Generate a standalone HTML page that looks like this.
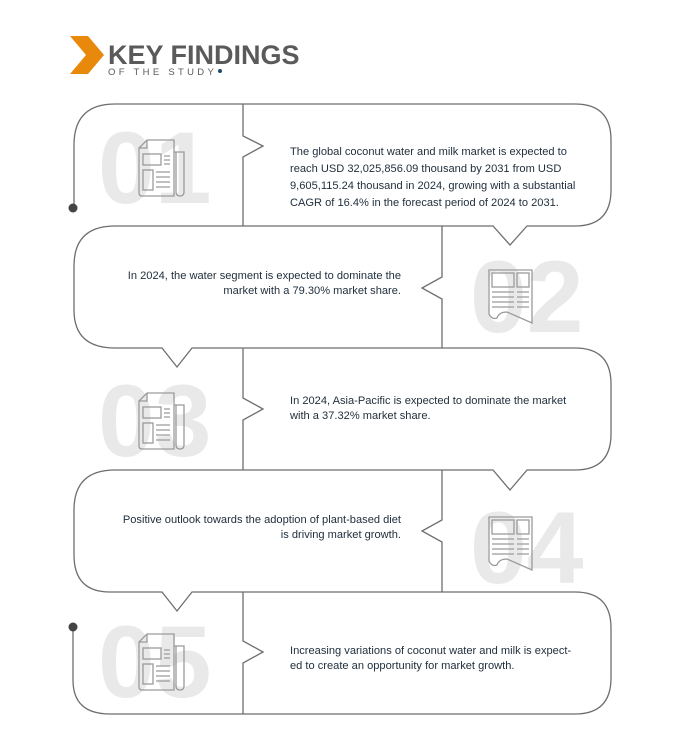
<!DOCTYPE html>
<html><head><meta charset="utf-8"><style>
html,body{margin:0;padding:0;background:#fff;}
svg{display:block;}
.t{font-family:"Liberation Sans",sans-serif;font-size:11.1px;fill:#1e2d3b;}
.n{font-family:"Liberation Sans",sans-serif;font-weight:bold;font-size:102px;fill:#e9e9e9;}
.ic{fill:none;stroke:#9a9a9a;stroke-width:1.3;}
</style></head><body>
<svg width="690" height="745" viewBox="0 0 690 745">
<defs>
<g id="ia" class="ic">
  <path d="M8,0 H35 V56 H3 Q0,56 0,53 V8 Z"/>
  <path d="M0,8 H8 V0"/>
  <path d="M35,12 H45 V52 Q45,56 41,56 Q37,56 37,52 V12"/>
  <rect x="4" y="14" width="18" height="11"/>
  <rect x="4" y="30" width="10" height="20"/>
  <path d="M25,16 H31 M25,20 H31 M25,24 H31 M17,32 H31 M17,37 H31 M17,42 H31 M17,47 H31"/>
</g>
<g id="ib" class="ic">
  <path d="M0,0 H43 V53 L18,42 Q10,42 8,48 Q3,50 0,44 Z"/>
  <rect x="3" y="3" width="22" height="14"/>
  <rect x="28" y="3" width="12" height="14"/>
  <path d="M3,22 H25 M3,27 H25 M3,32 H25 M3,37 H25 M28,22 H40 M28,27 H40 M28,32 H40 M28,37 H40"/>
</g>
</defs>
<polygon points="70,36 88,36 104,55 88,74 70,74 86,55" fill="#e8890c"/>
<text x="108" y="64" font-family="Liberation Sans,sans-serif" font-weight="bold" font-size="27" fill="#5a5a5a">KEY FINDINGS</text>
<text x="108" y="75" font-family="Liberation Sans,sans-serif" font-size="9.5" letter-spacing="3.3" fill="#5a5a5a">OF THE STUDY</text>
<circle cx="220" cy="71" r="2" fill="#1e4a6b"/>

<text class="n" x="98" y="203">01</text>
<text class="n" x="470" y="332">02</text>
<text class="n" x="98" y="456">03</text>
<text class="n" x="470" y="583">04</text>
<text class="n" x="98" y="697">05</text>

<use href="#ia" x="139" y="140"/>
<use href="#ib" x="489" y="270"/>
<use href="#ia" x="139" y="393"/>
<use href="#ib" x="489" y="517"/>
<use href="#ia" x="139" y="634"/>

<g fill="none" stroke="#6e6e6e" stroke-width="1.3">
  <path d="M74,208 V145 Q74,104 115,104 H575 Q611,104 611,140 V190 Q611,226 575,226 H527 L510,245 L493,226 H115 Q74,226 74,266 V310 Q74,348 115,348 H162 L177,367 L192,348 H575 Q611,348 611,384 V434 Q611,470 575,470 H527 L510,490 L493,470 H115 Q74,470 74,510 V555 Q74,592 110,592 H162 L177,611 L192,592 H575 Q611,592 611,628 V678 Q611,714 575,714 H110 Q73,714 73,680 V627"/>
  <path d="M243,104 V136 L263,146 L243,157 V226"/>
  <path d="M442,226 V277 L422,288 L442,299 V348"/>
  <path d="M243,348 V398 L263,409 L243,420 V470"/>
  <path d="M442,470 V520 L422,531 L442,542 V592"/>
  <path d="M243,592 V641 L263,652 L243,663 V714"/>
</g>
<circle cx="73" cy="208" r="4.5" fill="#444"/>
<circle cx="73" cy="627" r="4.5" fill="#444"/>

<text class="t" x="290" y="155">The global coconut water and milk market is expected to</text>
<text class="t" x="290" y="172">reach USD 32,025,856.09 thousand by 2031 from USD</text>
<text class="t" x="290" y="189">9,605,115.24 thousand in 2024, growing with a substantial</text>
<text class="t" x="290" y="206">CAGR of 16.4% in the forecast period of 2024 to 2031.</text>

<text class="t" x="401" y="279" text-anchor="end">In 2024, the water segment is expected to dominate the</text>
<text class="t" x="401" y="294" text-anchor="end">market with a 79.30% market share.</text>

<text class="t" x="290" y="404">In 2024, Asia-Pacific is expected to dominate the market</text>
<text class="t" x="290" y="419">with a 37.32% market share.</text>

<text class="t" x="401" y="523" text-anchor="end">Positive outlook towards the adoption of plant-based diet</text>
<text class="t" x="401" y="538" text-anchor="end">is driving market growth.</text>

<text class="t" x="290" y="654">Increasing variations of coconut water and milk is expect-</text>
<text class="t" x="290" y="669">ed to create an opportunity for market growth.</text>
</svg>
</body></html>
